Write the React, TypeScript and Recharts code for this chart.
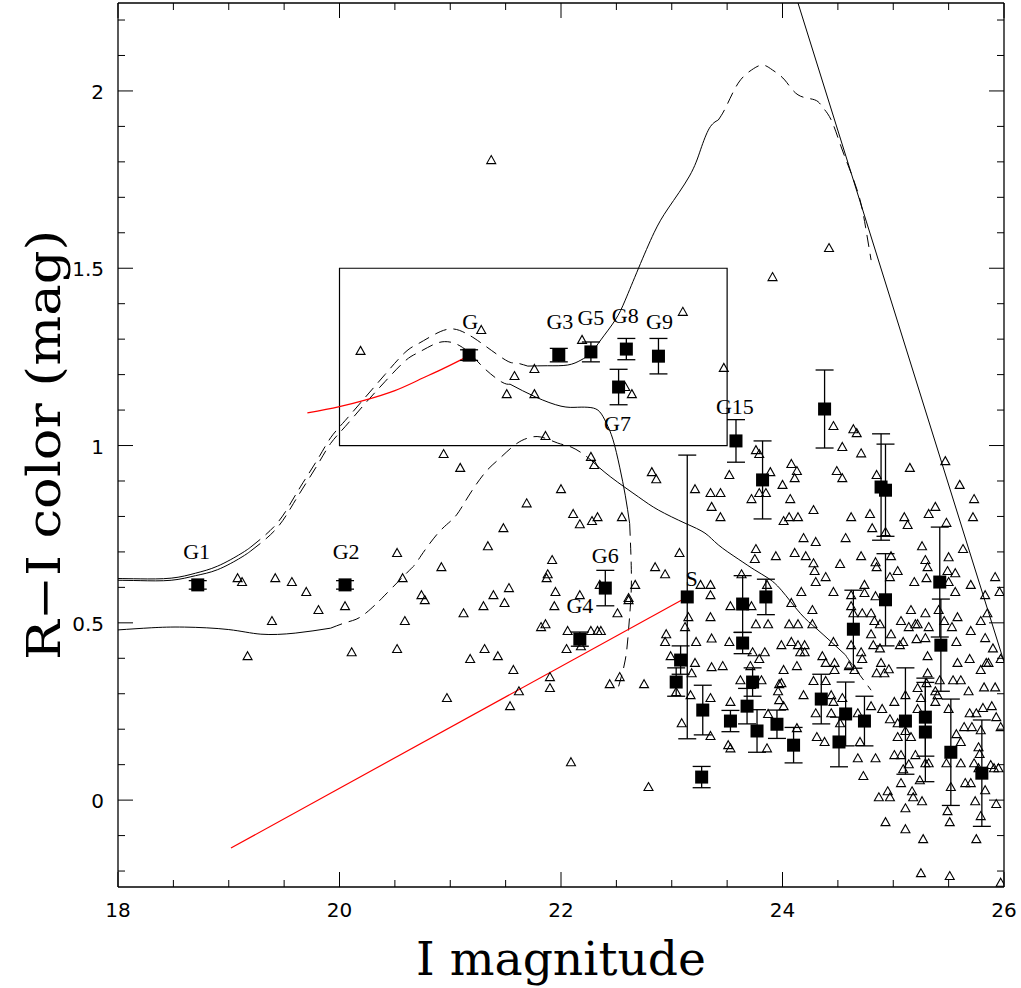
import {
  ComposedChart,
  ErrorBar,
  Line,
  ReferenceArea,
  Scatter,
  XAxis,
  YAxis,
} from "recharts";

// axis ticks
const xTicks = [18, 18.5, 19, 19.5, 20, 20.5, 21, 21.5, 22, 22.5, 23, 23.5, 24, 24.5, 25, 25.5, 26];
const xLabelTicks = [18, 20, 22, 24, 26];
const yTicks = [-0.2, -0.1, 0, 0.1, 0.2, 0.3, 0.4, 0.5, 0.6, 0.7, 0.8, 0.9, 1, 1.1, 1.2, 1.3, 1.4, 1.5, 1.6, 1.7, 1.8, 1.9, 2, 2.1, 2.2];
const yLabelTicks = [0, 0.5, 1, 1.5, 2];

// field objects (open triangles), I mag vs R-I
const fieldBright = [
  [21.37, 1.805], [20.19, 1.267], [19.08, 0.626], [19.12, 0.615], [19.42, 0.626], [19.57, 0.615],
  [19.7, 0.587], [20.52, 0.697], [20.57, 0.626], [19.39, 0.505], [19.81, 0.536], [20.05, 0.547],
  [20.59, 0.505], [19.17, 0.406], [20.11, 0.417], [20.52, 0.426], [21.28, 1.326], [22.19, 1.298],
  [21.58, 1.196], [21.76, 1.216], [21.51, 1.145], [21.76, 1.145], [22.58, 1.165], [22.64, 1.145],
  [21.86, 1.027], [20.94, 0.976], [21.09, 0.937], [22.27, 0.968], [22.3, 0.945], [22.82, 0.925],
  [22.86, 0.905], [22.0, 0.877], [21.69, 0.837], [22.11, 0.807], [22.17, 0.778], [22.28, 0.787],
  [22.33, 0.798], [22.55, 0.798], [21.48, 0.767], [21.34, 0.716], [20.92, 0.657], [21.92, 0.677],
  [21.88, 0.637], [21.87, 0.626], [21.53, 0.598], [21.39, 0.578], [21.95, 0.587], [22.17, 0.578],
  [22.35, 0.607], [22.67, 0.607], [22.61, 0.57], [22.85, 0.657], [22.94, 0.637], [20.74, 0.578],
  [20.77, 0.564], [21.12, 0.527], [21.3, 0.547], [21.49, 0.556], [21.94, 0.547], [21.82, 0.488],
  [21.86, 0.496], [22.51, 0.527], [22.61, 0.564], [22.06, 0.477], [22.27, 0.477], [22.33, 0.477],
  [22.36, 0.477], [22.05, 0.426], [22.18, 0.434], [21.31, 0.426], [21.18, 0.398], [21.43, 0.406],
  [21.57, 0.367], [21.9, 0.347], [21.9, 0.316], [21.62, 0.307], [21.54, 0.265], [20.97, 0.288],
  [22.44, 0.327], [22.53, 0.347], [22.75, 0.327], [22.09, 0.107], [22.79, 0.037], [22.95, 0.468],
  [22.94, 0.446], [22.99, 0.406],
];

const fieldFaint = [
  [24.42, 1.557], [23.91, 1.475], [23.1, 1.377], [23.07, 0.697], [23.21, 0.877], [23.35, 0.866],
  [23.36, 0.827], [23.26, 0.607], [23.35, 0.607], [23.35, 0.578], [23.15, 0.516], [23.35, 0.516],
  [23.12, 0.488], [23.22, 0.446], [23.36, 0.456], [23.21, 0.387], [23.36, 0.375], [23.18, 0.358],
  [23.04, 0.305], [23.17, 0.296], [23.35, 0.288], [23.09, 0.217], [23.35, 0.181], [23.47, 1.219],
  [24.46, 1.055], [24.64, 1.046], [24.67, 1.035], [24.54, 0.996], [24.71, 0.978], [23.76, 0.987],
  [23.79, 0.976], [23.52, 0.917], [23.89, 0.925], [24.08, 0.948], [24.13, 0.928], [24.11, 0.908],
  [24.49, 0.928], [24.54, 0.908], [24.85, 0.917], [25.15, 0.937], [25.47, 0.956], [23.44, 0.866],
  [24.0, 0.889], [23.79, 0.866], [23.85, 0.866], [23.72, 0.849], [24.07, 0.849], [25.6, 0.889],
  [25.73, 0.849], [23.44, 0.798], [24.28, 0.818], [24.01, 0.787], [24.06, 0.798], [24.14, 0.798],
  [24.62, 0.798], [24.79, 0.807], [25.1, 0.798], [25.13, 0.776], [25.32, 0.807], [25.38, 0.827],
  [25.72, 0.798], [25.48, 0.782], [24.81, 0.767], [24.19, 0.739], [24.3, 0.728], [24.57, 0.739],
  [24.93, 0.756], [23.76, 0.708], [23.75, 0.68], [23.94, 0.688], [24.11, 0.697], [24.21, 0.688],
  [24.52, 0.666], [24.28, 0.668], [24.29, 0.646], [24.71, 0.688], [24.84, 0.671], [24.85, 0.657],
  [25.04, 0.646], [24.98, 0.688], [25.26, 0.716], [25.29, 0.677], [25.31, 0.657], [25.5, 0.685],
  [25.56, 0.64], [25.63, 0.708], [24.39, 0.629], [24.3, 0.615], [24.46, 0.587], [24.17, 0.587],
  [25.19, 0.615], [25.3, 0.626], [25.5, 0.615], [25.56, 0.587], [25.7, 0.607], [25.92, 0.629],
  [25.96, 0.587], [25.83, 0.578], [24.62, 0.578], [24.74, 0.584], [24.84, 0.575], [23.63, 0.637],
  [23.86, 0.607], [24.74, 0.607], [24.97, 0.629], [25.49, 0.646], [23.53, 0.547], [23.72, 0.547],
  [24.08, 0.556], [24.27, 0.536], [24.62, 0.547], [24.64, 0.527], [24.72, 0.527], [24.8, 0.527],
  [25.16, 0.536], [25.29, 0.527], [25.41, 0.536], [25.58, 0.516], [25.85, 0.527], [23.76, 0.496],
  [23.87, 0.496], [24.06, 0.496], [24.14, 0.496], [24.27, 0.496], [24.83, 0.505], [24.88, 0.496],
  [25.07, 0.505], [25.14, 0.488], [25.2, 0.496], [25.22, 0.496], [25.32, 0.488], [25.46, 0.505],
  [25.53, 0.488], [25.7, 0.477], [25.79, 0.505], [23.52, 0.446], [23.73, 0.417], [23.84, 0.417],
  [23.79, 0.398], [23.99, 0.437], [24.08, 0.446], [24.14, 0.437], [24.16, 0.417], [24.2, 0.437],
  [24.2, 0.417], [24.46, 0.446], [24.62, 0.437], [24.71, 0.417], [24.8, 0.468], [24.82, 0.437],
  [24.88, 0.428], [24.98, 0.468], [25.09, 0.446], [25.06, 0.437], [25.21, 0.454], [25.29, 0.457],
  [25.31, 0.406], [25.57, 0.446], [25.83, 0.457], [25.9, 0.428], [25.97, 0.398], [23.46, 0.378],
  [23.62, 0.338], [23.71, 0.378], [23.81, 0.338], [24.01, 0.367], [24.13, 0.378], [24.36, 0.406],
  [24.39, 0.387], [24.47, 0.387], [24.47, 0.367], [24.6, 0.378], [24.65, 0.367], [24.72, 0.398],
  [24.89, 0.387], [24.85, 0.358], [24.92, 0.358], [24.96, 0.369], [25.31, 0.358], [25.3, 0.33],
  [25.42, 0.338], [25.58, 0.387], [25.69, 0.398], [25.79, 0.367], [25.84, 0.387], [25.86, 0.387],
  [25.82, 0.318], [25.92, 0.318], [25.54, 0.338], [25.61, 0.338], [25.68, 0.307], [23.53, 0.277],
  [23.96, 0.307], [23.99, 0.33], [23.97, 0.282], [23.87, 0.243], [24.01, 0.265], [24.19, 0.296],
  [24.28, 0.336], [24.39, 0.336], [24.44, 0.296], [24.46, 0.277], [24.54, 0.288], [24.44, 0.245],
  [24.3, 0.245], [24.52, 0.217], [24.68, 0.245], [24.8, 0.265], [24.9, 0.257], [24.97, 0.228],
  [25.01, 0.277], [25.04, 0.217], [25.11, 0.296], [25.22, 0.316], [25.25, 0.288], [25.22, 0.257],
  [25.38, 0.307], [25.4, 0.296], [25.38, 0.277], [25.5, 0.257], [25.69, 0.245], [25.75, 0.245],
  [25.81, 0.26], [25.89, 0.265], [25.93, 0.234], [25.97, 0.206], [25.64, 0.206], [25.71, 0.206],
  [25.79, 0.197], [25.57, 0.186], [25.61, 0.164], [25.77, 0.149], [25.78, 0.13], [25.73, 0.104],
  [25.77, 0.09], [25.88, 0.099], [25.91, 0.09], [25.95, 0.09], [25.65, 0.048], [25.7, 0.048],
  [25.83, 0.028], [25.93, -0.011], [25.74, -0.003], [25.49, -0.031], [25.51, -0.062], [25.79, -0.045],
  [25.75, -0.11], [25.27, -0.11], [25.11, -0.082], [24.93, -0.062], [25.11, -0.023], [24.97, 0.008],
  [24.87, 0.008], [24.95, 0.025], [25.07, 0.048], [25.17, 0.025], [25.18, 0.008], [25.26, -0.003],
  [25.24, 0.056], [25.29, 0.104], [25.32, 0.104], [25.09, 0.087], [25.14, 0.101], [25.01, 0.127],
  [25.07, 0.127], [25.2, 0.127], [25.04, 0.178], [25.11, 0.195], [25.16, 0.178], [25.48, 0.104],
  [25.61, 0.104], [25.52, 0.037], [25.25, -0.206], [25.51, -0.214], [25.97, -0.233], [24.68, 0.118],
  [24.84, 0.118], [24.73, 0.068], [23.51, 0.155], [23.53, 0.146], [23.86, 0.146], [24.31, 0.178],
  [24.38, 0.164], [24.7, 0.164], [24.13, 0.203], [23.97, 0.327],
];

// galaxies with photometric errors: [I, R-I, error]
const galaxies = [
  [18.72, 0.607, 0.012], [20.05, 0.607, 0.012], [21.17, 1.255, 0.015], [21.98, 1.255, 0.019],
  [22.27, 1.264, 0.028], [22.59, 1.272, 0.03], [22.88, 1.252, 0.05], [22.52, 1.165, 0.05],
  [22.4, 0.598, 0.05], [22.17, 0.454, 0.02], [23.14, 0.573, 0.4], [23.58, 1.013, 0.06],
  [24.38, 1.103, 0.11], [23.82, 0.903, 0.11], [24.89, 0.883, 0.15], [24.93, 0.874, 0.13],
  [25.42, 0.615, 0.155], [23.08, 0.395, 0.04], [23.04, 0.333, 0.04], [23.28, 0.254, 0.07],
  [23.27, 0.065, 0.03], [23.64, 0.553, 0.08], [23.85, 0.573, 0.05], [23.64, 0.443, 0.03],
  [23.73, 0.333, 0.04], [23.68, 0.265, 0.05], [23.53, 0.223, 0.03], [23.77, 0.195, 0.06],
  [23.95, 0.214, 0.04], [24.1, 0.155, 0.05], [24.64, 0.482, 0.11], [24.93, 0.565, 0.13],
  [25.43, 0.437, 0.13], [24.35, 0.285, 0.07], [24.57, 0.243, 0.09], [24.51, 0.164, 0.07],
  [24.74, 0.223, 0.07], [25.11, 0.223, 0.15], [25.29, 0.234, 0.11], [25.29, 0.192, 0.14],
  [25.52, 0.135, 0.15], [25.8, 0.076, 0.15],
];

// name labels: [text, I, R-I]
const galaxyLabels = [
  ["G1", 18.71, 0.702], ["G2", 20.06, 0.702], ["G", 21.18, 1.35], ["G3", 21.99, 1.351],
  ["G5", 22.27, 1.362], ["G8", 22.58, 1.368], ["G9", 22.89, 1.351], ["G7", 22.51, 1.061],
  ["G15", 23.57, 1.11], ["G6", 22.4, 0.691], ["G4", 22.17, 0.55], ["S", 23.18, 0.626],
];

// model tracks
const trackA1 = [[18, 0.625], [18.2, 0.624], [18.48, 0.626], [18.7, 0.64], [18.9, 0.66], [19.11, 0.695], [19.2, 0.714]];
const trackA2 = [
  [19.2, 0.714], [19.42, 0.775], [19.56, 0.838], [19.67, 0.895], [19.81, 0.965], [19.92, 1.022],
  [20.05, 1.07], [20.23, 1.135], [20.41, 1.2], [20.59, 1.262], [20.71, 1.287], [20.85, 1.312],
  [21.01, 1.329], [21.15, 1.315], [21.28, 1.289], [21.5, 1.241], [21.59, 1.233], [21.7, 1.224],
];
const trackA3 = [
  [21.7, 1.224], [21.88, 1.225], [22.06, 1.227], [22.18, 1.241], [22.27, 1.261], [22.36, 1.298],
  [22.49, 1.354], [22.58, 1.41], [22.7, 1.5], [22.84, 1.6], [22.97, 1.67], [23.16, 1.76],
  [23.26, 1.834], [23.34, 1.895], [23.42, 1.918],
];
const trackA4 = [
  [23.42, 1.918], [23.49, 1.955], [23.6, 2.022], [23.72, 2.059], [23.82, 2.073], [23.91, 2.059],
  [24.02, 2.031], [24.14, 1.989], [24.29, 1.975], [24.36, 1.955], [24.44, 1.918], [24.53, 1.842],
  [24.62, 1.768], [24.7, 1.693], [24.75, 1.616], [24.8, 1.523],
];
const trackB1 = [[18, 0.62], [18.2, 0.619], [18.48, 0.62], [18.7, 0.633], [18.9, 0.65], [19.11, 0.684], [19.2, 0.703]];
const trackB2 = [
  [19.2, 0.703], [19.42, 0.762], [19.56, 0.824], [19.67, 0.88], [19.81, 0.95], [19.92, 1.006],
  [20.05, 1.053], [20.23, 1.118], [20.41, 1.18], [20.59, 1.238], [20.71, 1.262], [20.85, 1.285],
  [20.95, 1.293], [21.05, 1.287], [21.17, 1.262], [21.3, 1.22], [21.46, 1.18], [21.54, 1.173],
];
const trackB3 = [
  [21.54, 1.173], [21.77, 1.137], [22.0, 1.111], [22.15, 1.108], [22.27, 1.107], [22.35, 1.095],
  [22.41, 1.063], [22.47, 1.016], [22.53, 0.939], [22.58, 0.86], [22.62, 0.78],
];
const trackB4 = [[22.62, 0.78], [22.635, 0.65], [22.63, 0.564], [22.61, 0.48], [22.58, 0.395], [22.51, 0.31]];
const trackC1 = [[18, 0.48], [18.3, 0.486], [18.6, 0.488], [19.0, 0.481], [19.29, 0.468], [19.6, 0.471], [19.92, 0.485]];
const trackC2 = [
  [19.92, 0.485], [20.05, 0.5], [20.15, 0.51], [20.24, 0.528], [20.33, 0.553], [20.41, 0.578],
  [20.65, 0.654], [20.71, 0.677], [20.89, 0.753], [21.04, 0.798], [21.16, 0.855], [21.31, 0.922],
  [21.43, 0.959], [21.58, 1.001], [21.7, 1.021], [21.82, 1.024], [21.97, 1.007], [22.09, 0.996],
  [22.2, 0.976], [22.27, 0.959],
];
const trackC3 = [
  [22.27, 0.959], [22.45, 0.911], [22.7, 0.855], [22.88, 0.818], [23.12, 0.781], [23.3, 0.753],
  [23.42, 0.72], [23.6, 0.68], [23.75, 0.649], [23.87, 0.626], [23.99, 0.592], [24.16, 0.527],
  [24.32, 0.48], [24.57, 0.409],
];
const trackC4 = [[24.57, 0.409], [24.62, 0.386], [24.8, 0.31]];
const limitLine = [[24.14, 2.248], [26, 0.39]];
const redCurve = [[19.71, 1.092], [19.99, 1.109], [20.23, 1.128], [20.5, 1.155], [20.71, 1.184], [20.95, 1.219], [21.18, 1.255]];
const redLine = [[19.02, -0.135], [23.14, 0.573]];

const pts = (arr: number[][]) => arr.map(([x, y]) => ({ x, y }));
const DASH = "12 7";
const TICK_OFF = 15; // tickSize + tickMargin, removed again in the tick renderers
const isMajor = (v: number) => yLabelTicks.some((t) => Math.abs(t - v) < 1e-6) || Math.abs(v * 2 - Math.round(v * 2)) < 1e-6;

function BottomTick(props: any) {
  const { x, payload } = props;
  const y = props.y - TICK_OFF;
  const v = payload.value;
  const major = xLabelTicks.includes(v);
  return (
    <g>
      <line x1={x} y1={y} x2={x} y2={y - (major ? 15 : 7)} stroke="#000" />
      {major && (
        <text x={x} y={y + 30} textAnchor="middle" fontFamily="DejaVu Sans" fontSize={20} fill="#000">
          {v}
        </text>
      )}
    </g>
  );
}

function TopTick(props: any) {
  const { x, payload } = props;
  const y = props.y + TICK_OFF;
  const major = xLabelTicks.includes(payload.value);
  return <line x1={x} y1={y} x2={x} y2={y + (major ? 15 : 7)} stroke="#000" />;
}

function LeftTick(props: any) {
  const { y, payload } = props;
  const x = props.x + TICK_OFF;
  const v = payload.value;
  const major = isMajor(v);
  return (
    <g>
      <line x1={x} y1={y} x2={x + (major ? 15 : 7)} y2={y} stroke="#000" />
      {major && (
        <text x={x - 14} y={y + 8} textAnchor="end" fontFamily="DejaVu Sans" fontSize={20} fill="#000">
          {String(v)}
        </text>
      )}
    </g>
  );
}

function RightTick(props: any) {
  const { y, payload } = props;
  const x = props.x - TICK_OFF;
  const major = isMajor(payload.value);
  return <line x1={x} y1={y} x2={x - (major ? 15 : 7)} y2={y} stroke="#000" />;
}

function Triangle(props: any) {
  const { cx, cy } = props;
  return (
    <path
      d={`M${cx},${cy - 4.5}L${cx + 4.5},${cy + 3.5}L${cx - 4.5},${cy + 3.5}Z`}
      fill="none"
      stroke="#000"
      strokeWidth={1.1}
    />
  );
}

function Square(props: any) {
  const { cx, cy } = props;
  return <rect x={cx - 6.5} y={cy - 6.5} width={13} height={13} fill="#000" />;
}

function NameLabel(props: any) {
  const { cx, cy, payload } = props;
  return (
    <text x={cx} y={cy} textAnchor="middle" dominantBaseline="central" fontFamily="Liberation Serif" fontSize={22} fill="#000">
      {payload.name}
    </text>
  );
}

export default function App() {
  const galaxyData = galaxies.map(([x, y, err]) => ({ x, y, err }));
  const labelData = galaxyLabels.map(([name, x, y]) => ({ name, x, y }));
  const blackSegments: [number[][], boolean][] = [
    [trackA1, false], [trackA2, true], [trackA3, false], [trackA4, true],
    [trackB1, false], [trackB2, true], [trackB3, false], [trackB4, true],
    [trackC1, false], [trackC2, true], [trackC3, false], [trackC4, true],
  ];

  return (
    <div style={{ position: "absolute", left: 0, top: 0, background: "#fff" }}>
      <ComposedChart width={1021} height={988} margin={{ top: 2, right: 16, bottom: 0, left: 0 }}>
        <XAxis
          dataKey="x"
          type="number"
          domain={[18, 26]}
          ticks={xTicks}
          interval={0}
          allowDataOverflow
          height={101}
          tickSize={10}
          tickMargin={5}
          tickLine={false}
          tick={<BottomTick />}
          axisLine={{ stroke: "#000", strokeWidth: 1.3 }}
          label={(p: any) => {
            const vb = p?.viewBox ?? { x: 118, y: 887, width: 886, height: 101 };
            return (
              <text x={vb.x + vb.width / 2} y={vb.y + 88} textAnchor="middle" textLength={290} lengthAdjust="spacingAndGlyphs" fontFamily="DejaVu Serif" fontSize={46} fill="#000">
                I magnitude
              </text>
            );
          }}
        />
        <XAxis
          xAxisId="top"
          orientation="top"
          dataKey="x"
          type="number"
          domain={[18, 26]}
          ticks={xTicks}
          interval={0}
          allowDataOverflow
          height={1}
          tickSize={10}
          tickMargin={5}
          tickLine={false}
          tick={<TopTick />}
          axisLine={{ stroke: "#000", strokeWidth: 1.3 }}
        />
        <YAxis
          dataKey="y"
          type="number"
          domain={[-0.245, 2.248]}
          ticks={yTicks}
          interval={0}
          allowDataOverflow
          width={118}
          tickSize={10}
          tickMargin={5}
          tickLine={false}
          tick={<LeftTick />}
          axisLine={{ stroke: "#000", strokeWidth: 1.3 }}
          label={(p: any) => {
            const vb = p?.viewBox ?? { x: 0, y: 3, width: 118, height: 884 };
            const cx = 60;
            const cy = vb.y + vb.height / 2;
            return (
              <text x={cx} y={cy} transform={`rotate(-90, ${cx}, ${cy})`} textAnchor="middle" textLength={430} lengthAdjust="spacingAndGlyphs" fontFamily="DejaVu Serif" fontSize={46} fill="#000">
                R−I color (mag)
              </text>
            );
          }}
        />
        <YAxis
          yAxisId="right"
          orientation="right"
          type="number"
          domain={[-0.245, 2.248]}
          ticks={yTicks}
          interval={0}
          allowDataOverflow
          width={1}
          tickSize={10}
          tickMargin={5}
          tickLine={false}
          tick={<RightTick />}
          axisLine={{ stroke: "#000", strokeWidth: 1.3 }}
        />

        <ReferenceArea
          xAxisId="top"
          yAxisId="right"
          x1={20}
          x2={23.5}
          y1={1}
          y2={1.5}
          fill="none"
          stroke="#000"
          strokeWidth={1.2}
          fillOpacity={0}
        />

        {blackSegments.map(([seg, dashed], i) => (
          <Line
            key={`t${i}`}
            data={pts(seg)}
            dataKey="y"
            type="natural"
            stroke="#000"
            strokeWidth={1}
            strokeDasharray={dashed ? DASH : undefined}
            dot={false}
            activeDot={false}
            isAnimationActive={false}
            legendType="none"
          />
        ))}
        <Line xAxisId="top" yAxisId="right" data={pts(limitLine)} dataKey="y" type="linear" stroke="#000" strokeWidth={1} dot={false} activeDot={false} isAnimationActive={false} />
        <Line data={pts(redCurve)} dataKey="y" type="natural" stroke="#ff0000" strokeWidth={1.2} dot={false} activeDot={false} isAnimationActive={false} />
        <Line data={pts(redLine)} dataKey="y" type="linear" stroke="#ff0000" strokeWidth={1.2} dot={false} activeDot={false} isAnimationActive={false} />

        <Scatter data={pts(fieldBright)} shape={<Triangle />} isAnimationActive={false} />
        <Scatter data={pts(fieldFaint)} shape={<Triangle />} isAnimationActive={false} />
        <Scatter data={galaxyData} shape={<Square />} isAnimationActive={false}>
          <ErrorBar dataKey="err" direction="y" width={9} stroke="#000" strokeWidth={1.3} />
        </Scatter>
        <Scatter data={labelData} shape={<NameLabel />} isAnimationActive={false} />
      </ComposedChart>
    </div>
  );
}
